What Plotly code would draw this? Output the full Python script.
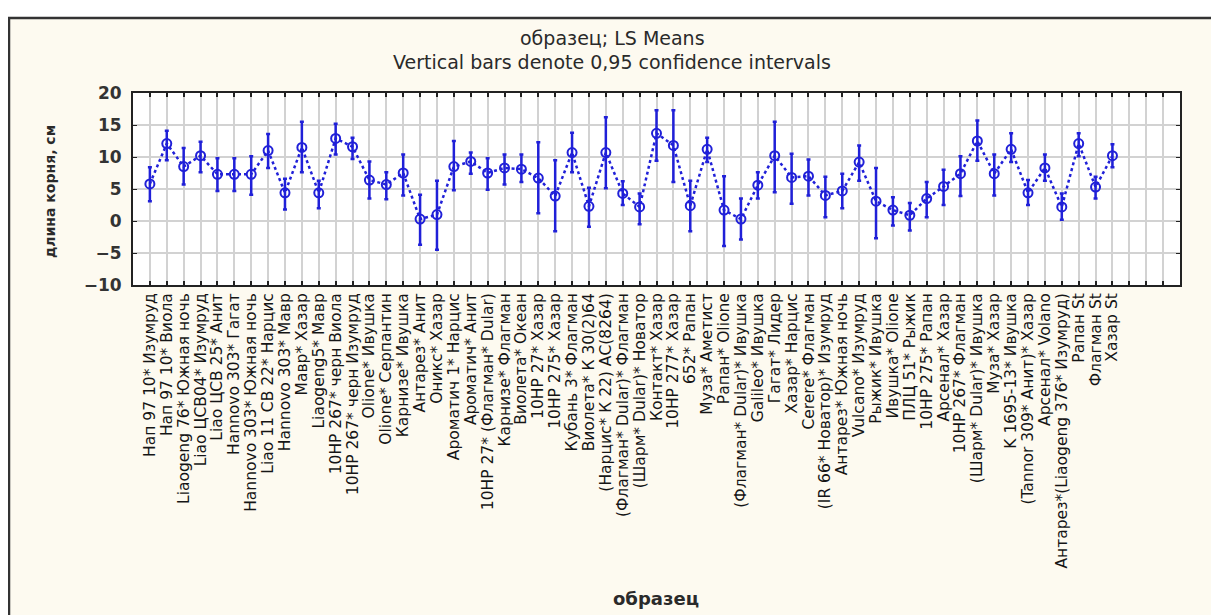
import plotly.graph_objects as go

labels = [
    "Нап 97 10* Изумруд", "Нап 97 10* Виола", "Liaogeng 76* Южная ночь",
    "Liao ЦСВ04* Изумруд", "Liao ЦСВ 25* Анит", "Hannovo 303* Гагат",
    "Hannovo 303* Южная ночь", "Liao 11 CB 22* Нарцис", "Hannovo 303* Мавр",
    "Мавр* Хазар", "Liaogeng5* Мавр", "10HP 267* черн Виола",
    "10HP 267* черн Изумруд", "Olione* Ивушка", "Olione* Серпантин",
    "Карнизе* Ивушка", "Антарез* Анит", "Оникс* Хазар", "Ароматич 1* Нарцис",
    "Ароматич* Анит", "10HP 27* (Флагман* Dular)", "Карнизе* Флагман",
    "Виолета* Океан", "10HP 27* Хазар", "10HP 275* Хазар", "Кубань 3* Флагман",
    "Виолета* К 30(2)64", "(Нарцис* К 22) АС(8264)", "(Флагман* Dular)* Флагман",
    "(Шарм* Dular)* Новатор", "Контакт* Хазар", "10HP 277* Хазар", "652* Рапан",
    "Муза* Аметист", "Рапан* Olione", "(Флагман* Dular)* Ивушка",
    "Galileo* Ивушка", "Гагат* Лидер", "Хазар* Нарцис", "Cerere* Флагман",
    "(IR 66* Новатор)* Изумруд", "Антарез* Южная ночь", "Vulcano* Изумруд",
    "Рыжик* Ивушка", "Ивушка* Olione", "ПЛЦ 51* Рыжик", "10HP 275* Рапан",
    "Арсенал* Хазар", "10HP 267* Флагман", "(Шарм* Dular)* Ивушка",
    "Муза* Хазар", "K 1695-13* Ивушка", "(Tannor 309* Анит)* Хазар",
    "Арсенал* Volano", "Антарез*(Liaogeng 376* Изумруд)", "Рапан St",
    "Флагман St", "Хазар St",
]

means = [5.8, 12.1, 8.5, 10.2, 7.3, 7.3, 7.3, 11.0, 4.4, 11.5,
         4.4, 12.9, 11.6, 6.4, 5.7, 7.5, 0.3, 1.0, 8.5, 9.3,
         7.5, 8.3, 8.1, 6.7, 3.9, 10.7, 2.3, 10.7, 4.3, 2.2,
         13.7, 11.8, 2.4, 11.2, 1.7, 0.3, 5.6, 10.2, 6.8, 7.0,
         4.0, 4.7, 9.2, 3.1, 1.7, 0.9, 3.5, 5.4, 7.4, 12.5,
         7.4, 11.2, 4.4, 8.3, 2.2, 12.1, 5.3, 10.2]
upper = [8.4, 14.1, 11.4, 12.4, 9.8, 9.8, 10.1, 13.6, 6.6, 15.5,
         6.3, 15.2, 13.0, 9.3, 7.6, 10.4, 4.1, 6.3, 12.5, 10.7,
         9.8, 10.4, 10.4, 12.3, 9.5, 13.8, 5.2, 16.2, 6.2, 4.3,
         17.3, 17.3, 6.3, 13.0, 7.0, 3.5, 7.6, 15.5, 10.5, 9.6,
         6.9, 7.4, 11.8, 8.3, 3.7, 2.8, 6.1, 8.0, 10.1, 15.7,
         10.4, 13.7, 6.4, 10.4, 4.3, 13.7, 6.9, 12.0]
lower = [3.1, 9.5, 5.7, 7.6, 4.7, 4.7, 4.1, 8.3, 1.8, 7.6,
         2.0, 10.4, 9.7, 3.5, 3.4, 4.0, -3.7, -4.5, 4.8, 7.4,
         4.9, 5.7, 6.1, 1.2, -1.6, 7.6, -0.9, 5.1, 2.5, -0.5,
         9.4, 6.1, -1.6, 9.2, -3.9, -2.9, 3.5, 4.5, 2.7, 4.0,
         0.6, 2.0, 6.3, -2.7, -0.7, -1.5, 0.6, 2.5, 3.9, 9.4,
         4.0, 9.2, 2.5, 6.3, 0.2, 10.1, 3.5, 8.4]

y_ticks = [-10, -5, 0, 5, 10, 15, 20]
n_slots = 61  # axis slots shown in the original factor axis

x = list(range(1, len(labels) + 1))
err_plus = [u - m for u, m in zip(upper, means)]
err_minus = [m - l for m, l in zip(means, lower)]

BLUE = "#2020D8"
TXT = "#2a2a2a"
CREAM = "#FDFAF0"

fig = go.Figure()
fig.add_trace(go.Scatter(
    x=x, y=means, mode="lines+markers",
    line=dict(color=BLUE, width=2.5, dash="dot"),
    marker=dict(symbol="circle-open", size=9, color=BLUE, line=dict(width=2, color=BLUE)),
    error_y=dict(type="data", array=err_plus, arrayminus=err_minus,
                 color=BLUE, thickness=2.5, width=2, visible=True),
    showlegend=False,
))

# page has an 8px body margin: work in page pixels, convert to figure pixels
OFF = 8
W, H = 1219 - OFF, 615 - OFF
L, R, T, B = 133 - OFF, 39, 93 - OFF, 330
pw, ph = W - L - R, H - T - B


def px_x(p):
    return (p - OFF - L) / pw


def px_y(p):
    return (H - B - (p - OFF)) / ph


tickvals = list(range(1, n_slots + 1))
ticktext = labels + [""] * (n_slots - len(labels))

fig.update_layout(
    width=W, height=H,
    margin=dict(l=L, r=R, t=T, b=B, autoexpand=False),
    paper_bgcolor=CREAM, plot_bgcolor="white",
    font=dict(family="DejaVu Sans, Arial", color=TXT),
    xaxis=dict(range=[0, n_slots + 1], tickmode="array", tickvals=tickvals,
               ticktext=ticktext, tickangle=-90, showgrid=True, automargin=False,
               gridcolor="#d2d2d2", gridwidth=2, zeroline=False,
               showline=True, linecolor="#222", linewidth=2, mirror="ticks",
               ticks="inside", ticklen=4, tickcolor="#222", tickwidth=1.5,
               tickfont=dict(size=15.5, family="DejaVu Sans", color="#151515")),
    yaxis=dict(range=[-10, 20], tickmode="array", tickvals=y_ticks, automargin=False,
               showgrid=True, gridcolor="#d2d2d2", gridwidth=2, zeroline=False,
               showline=True, linecolor="#222", linewidth=2, mirror="ticks",
               ticks="inside", ticklen=4, tickcolor="#222", ticklabelstandoff=6,
               tickfont=dict(size=17, family="DejaVu Sans", color="#333", weight="bold"),
               ),
    shapes=[
        dict(type="rect", xref="paper", yref="paper", layer="below",
             x0=px_x(0), x1=px_x(1230), y0=px_y(0), y1=px_y(18),
             fillcolor="white", line=dict(width=0)),
        dict(type="rect", xref="paper", yref="paper", layer="below",
             x0=px_x(0), x1=px_x(9), y0=px_y(640), y1=px_y(0),
             fillcolor="white", line=dict(width=0)),
        dict(type="rect", xref="paper", yref="paper", layer="below",
             x0=px_x(1214), x1=px_x(1230), y0=px_y(640), y1=px_y(0),
             fillcolor="white", line=dict(width=0)),
        dict(type="rect", xref="paper", yref="paper", layer="above",
             x0=px_x(9), x1=px_x(1214), y0=px_y(640), y1=px_y(18),
             fillcolor="rgba(0,0,0,0)", line=dict(color="#333", width=2.5)),
    ],
    annotations=[
        dict(text="образец; LS Means", xref="paper", yref="paper",
             x=px_x(612), y=px_y(38), showarrow=False, xanchor="center", yanchor="middle",
             font=dict(size=19, color=TXT)),
        dict(text="Vertical bars denote 0,95 confidence intervals", xref="paper",
             yref="paper", x=px_x(612), y=px_y(62), showarrow=False,
             xanchor="center", yanchor="middle",
             font=dict(size=19, color=TXT)),
        dict(text="образец", xref="paper", yref="paper",
             x=px_x(656), y=px_y(598), showarrow=False, xanchor="center", yanchor="middle",
             font=dict(size=18, color=TXT, weight="bold")),
        dict(text="длина корня, см", xref="paper", yref="paper",
             x=px_x(50), y=px_y(192), showarrow=False, textangle=-90,
             xanchor="center", yanchor="middle",
             font=dict(size=14, color=TXT, weight="bold")),
    ],
)

fig.write_html("out.html")
